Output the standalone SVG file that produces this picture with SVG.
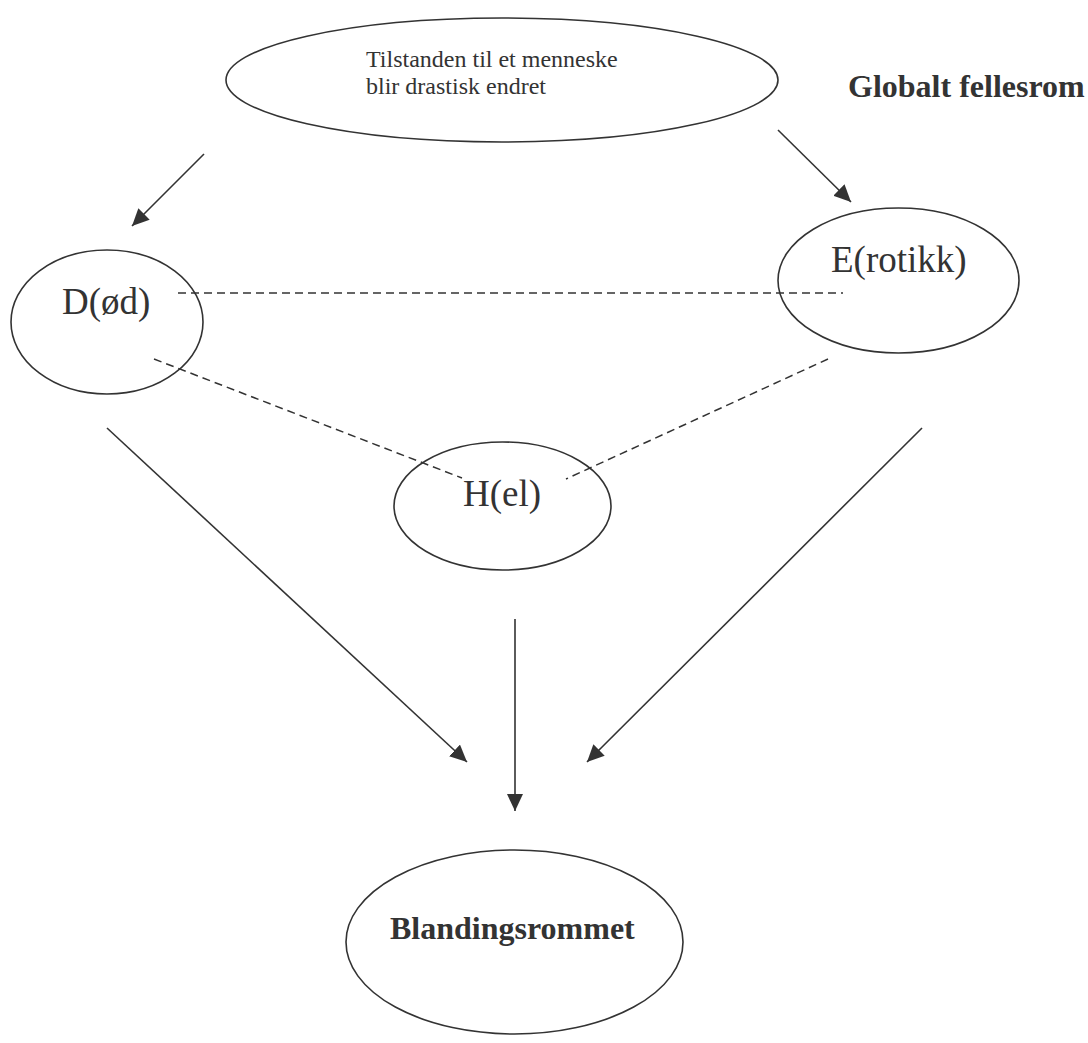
<svg xmlns="http://www.w3.org/2000/svg" width="1088" height="1043" viewBox="0 0 1088 1043">
<style>
  .node ellipse { fill: #fff; stroke: #333; stroke-width: 1.6; }
  .lbl { font-family: "Liberation Serif", "Times New Roman", serif; fill: #333; }
  .big { font-size: 37px; }
  .small { font-size: 24px; }
  .bold { font-size: 32px; font-weight: bold; }
  .arrow { stroke: #333; stroke-width: 1.6; fill: none; marker-end: url(#ah); }
  .dash { stroke: #333; stroke-width: 1.5; fill: none; stroke-dasharray: 8 5; }
</style>
<defs>
  <marker id="ah" markerUnits="userSpaceOnUse" markerWidth="18" markerHeight="16" refX="17" refY="8" orient="auto">
    <path d="M0,0 L17,8 L0,16 z" fill="#333"/>
  </marker>
</defs>
<rect width="1088" height="1043" fill="#fff"/>
<g id="node-top" class="node">
  <ellipse cx="502" cy="80" rx="276" ry="62"/>
  <text class="lbl small" x="366" y="67">Tilstanden til et menneske</text>
  <text class="lbl small" x="366" y="94">blir drastisk endret</text>
</g>
<g id="label-global">
  <text class="lbl bold" x="848" y="97">Globalt fellesrom</text>
</g>
<g id="node-D" class="node">
  <ellipse cx="107" cy="322" rx="96" ry="72"/>
  <text class="lbl big" x="62" y="314">D(ød)</text>
</g>
<g id="node-E" class="node">
  <ellipse cx="898.5" cy="280.5" rx="120.5" ry="72.5"/>
  <text class="lbl big" x="831" y="272">E(rotikk)</text>
</g>
<g id="node-H" class="node">
  <ellipse cx="502.5" cy="506" rx="108.5" ry="64"/>
  <text class="lbl big" x="463" y="506">H(el)</text>
</g>
<g id="node-B" class="node">
  <ellipse cx="514.5" cy="942" rx="168.5" ry="92"/>
  <text class="lbl bold" x="390" y="939">Blandingsrommet</text>
</g>
<g id="connectors">
  <line class="dash" x1="178" y1="293" x2="843" y2="293"/>
  <line class="dash" x1="154" y1="359" x2="462" y2="478"/>
  <line class="dash" x1="828" y1="359" x2="566" y2="479"/>
  <line class="arrow" x1="204" y1="154" x2="132" y2="226"/>
  <line class="arrow" x1="778" y1="130" x2="851" y2="202"/>
  <line class="arrow" x1="107" y1="428" x2="467" y2="762"/>
  <line class="arrow" x1="515" y1="619" x2="515" y2="811"/>
  <line class="arrow" x1="922" y1="428" x2="587" y2="762"/>
</g>
</svg>
